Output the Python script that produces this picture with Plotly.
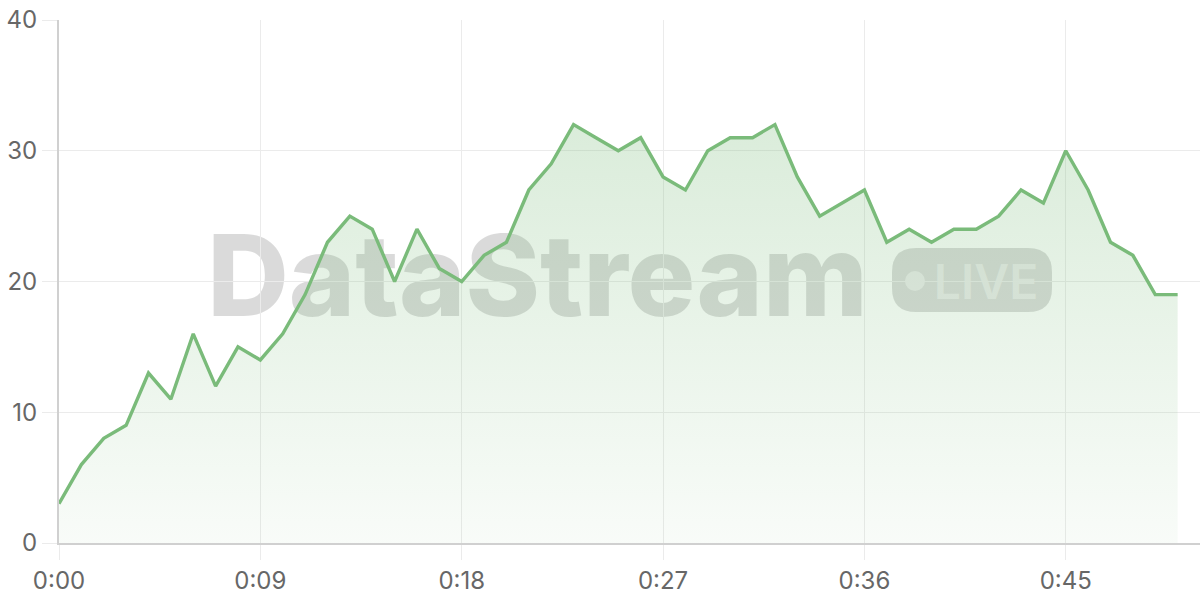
import plotly.graph_objects as go

# seconds since start and the streamed value at each second
seconds = list(range(51))
values = [3, 6, 8, 9, 13, 11, 16, 12, 15, 14,
          16, 19, 23, 25, 24, 20, 24, 21, 20, 22,
          23, 27, 29, 32, 31, 30, 31, 28, 27, 30,
          31, 31, 32, 28, 25, 26, 27, 23, 24, 23,
          24, 24, 25, 27, 26, 30, 27, 23, 22, 19, 19]

x_tick_vals = [0, 9, 18, 27, 36, 45]
x_tick_text = ["0:00", "0:09", "0:18", "0:27", "0:36", "0:45"]
y_tick_vals = [0, 10, 20, 30, 40]

W, H = 1200, 600
ML, MR, MT, MB = 59, 0, 20, 57
PW, PH = W - ML - MR, H - MT - MB


def px(x):
    # pixel x -> paper x
    return (x - ML) / PW


def py(y):
    # pixel y (from top) -> paper y
    return (H - MB - y) / PH


def rounded_rect(x0, y0, x1, y1, r):
    """
    SVG path for a rounded box, given in pixels, returned in paper units.
    """
    rx, ry = r / PW, r / PH
    a, b, c, d = px(x0), py(y1), px(x1), py(y0)
    return (f"M {a + rx},{b} L {c - rx},{b} Q {c},{b} {c},{b + ry} "
            f"L {c},{d - ry} Q {c},{d} {c - rx},{d} L {a + rx},{d} "
            f"Q {a},{d} {a},{d - ry} L {a},{b + ry} Q {a},{b} {a + rx},{b} Z")


def create_traces():
    trace = go.Scatter(
        x=seconds, y=values, mode="lines",
        line=dict(color="#7abb7a", width=3.4),
        fill="tozeroy",
        fillgradient=dict(
            type="vertical", start=0, stop=32,
            colorscale=[[0, "rgba(124,188,124,0.05)"], [1, "rgba(124,188,124,0.28)"]],
        ),
        hoverinfo="skip",
    )
    return [trace]


def watermark_shapes():
    grey = "rgba(0,0,0,0.145)"
    shapes = [
        # big word mark
        dict(type="rect", xref="paper", yref="paper", layer="below",
             x0=px(190), x1=px(885), y0=py(330), y1=py(212),
             line=dict(width=0), fillcolor="rgba(0,0,0,0)",
             label=dict(text="DataStream", textposition="middle center",
                        font=dict(family="Inter", size=113, color=grey, weight=800))),
        # LIVE badge
        dict(type="path", xref="paper", yref="paper", layer="below",
             path=rounded_rect(892, 248, 1052, 312, 24),
             line=dict(width=0), fillcolor=grey),
        dict(type="circle", xref="paper", yref="paper", layer="below",
             x0=px(905), x1=px(925), y0=py(291), y1=py(271),
             line=dict(width=0), fillcolor="rgba(255,255,255,0.45)"),
        dict(type="rect", xref="paper", yref="paper", layer="below",
             x0=px(932), x1=px(1040), y0=py(305), y1=py(255),
             line=dict(width=0), fillcolor="rgba(0,0,0,0)",
             label=dict(text="LIVE", textposition="middle center",
                        font=dict(family="Inter", size=48, color="rgba(255,255,255,0.45)",
                                  weight=600))),
    ]
    return shapes


def create_plot(traces):
    fig = go.Figure(data=traces)
    fig.update_layout(
        width=W, height=H,
        margin=dict(l=ML, r=MR, t=MT, b=MB),
        paper_bgcolor="white", plot_bgcolor="white",
        showlegend=False,
        font=dict(family="Inter", size=24, color="#676767"),
        shapes=watermark_shapes(),
    )
    fig.update_xaxes(
        range=[0, 51.0], tickvals=x_tick_vals, ticktext=x_tick_text,
        showgrid=True, gridcolor="#ebebeb", gridwidth=1,
        showline=True, linecolor="#d0d0d0", linewidth=2,
        ticks="outside", ticklen=15, tickcolor="#ebebeb", tickwidth=1,
        zeroline=False, fixedrange=True, automargin=False,
    )
    fig.update_yaxes(
        range=[0, 40], tickvals=y_tick_vals,
        showgrid=True, gridcolor="#ebebeb", gridwidth=1,
        showline=True, linecolor="#d0d0d0", linewidth=2,
        ticks="outside", ticklen=15, tickcolor="#ebebeb", tickwidth=1,
        zeroline=False, fixedrange=True, automargin=False,
    )
    # page body has an 8px default margin; drop it so the figure sits at 0,0
    fig.write_html("out.html", config={"displayModeBar": False},
                   post_script="document.body.style.margin='0';"
                               "document.body.style.overflow='hidden';")


def main():
    traces = create_traces()
    create_plot(traces)


if __name__ == "__main__":
    main()
